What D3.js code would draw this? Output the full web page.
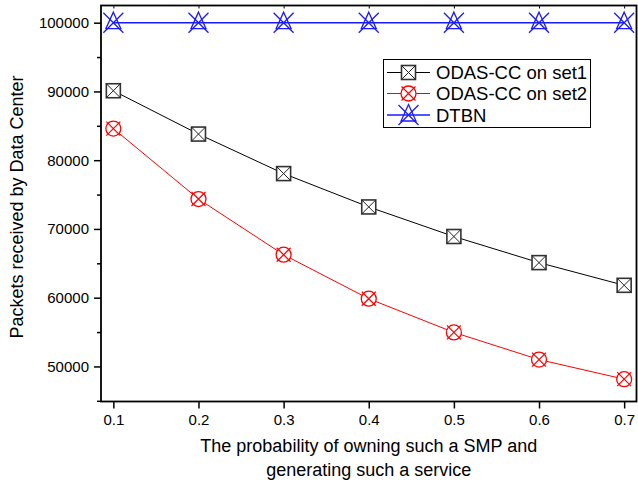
<!DOCTYPE html>
<html>
<head>
<meta charset="utf-8">
<script src="https://cdn.jsdelivr.net/npm/d3@7"></script>
<style>
  html, body { margin: 0; padding: 0; background: #fff; }
  svg { display: block; font-family: "Liberation Sans", Arial, sans-serif; }
</style>
</head>
<body>
<svg id="chart" width="638" height="485"></svg>
<script>
// Probability values on the x axis
const probabilities = [0.1, 0.2, 0.3, 0.4, 0.5, 0.6, 0.7];
// Packets received by the data center for each scheme
const odasSet1 = [90100, 83800, 78050, 73200, 68900, 65100, 61800];
const odasSet2 = [84600, 74350, 66250, 59850, 54950, 51000, 48150];
const dtbn = [100000, 100000, 100000, 100000, 100000, 100000, 100000];
const seriesNames = ["ODAS-CC on set1", "ODAS-CC on set2", "DTBN"];
const yTickValues = [50000, 60000, 70000, 80000, 90000, 100000];
const yMinorTickValues = [45000, 55000, 65000, 75000, 85000, 95000];

const svg = d3.select("#chart");
const plot = { left: 101, right: 636.5, top: 5.5, bottom: 401.5 };

const x = d3.scaleLinear().domain([0.0855, 0.7145]).range([plot.left, plot.right]);
const y = d3.scaleLinear().domain([44900, 102500]).range([plot.bottom, plot.top]);

const series = [
  { name: seriesNames[0], values: odasSet1, color: "#000000", marker: "square", width: 1 },
  { name: seriesNames[1], values: odasSet2, color: "#ff0000", marker: "circle", width: 1 },
  { name: seriesNames[2], values: dtbn, color: "#1a1aff", marker: "triangle", width: 1.5 }
];

// Marker drawing helpers
function drawMarker(g, type, color) {
  if (type === "square") {
    g.append("rect").attr("x", -7).attr("y", -7).attr("width", 14).attr("height", 14)
      .attr("fill", "#fff").attr("stroke", "#333").attr("stroke-width", 1.6);
    g.append("path").attr("d", "M-7,-7L7,7M-7,7L7,-7")
      .attr("stroke", "#222").attr("stroke-width", 1).attr("fill", "none");
  } else if (type === "circle") {
    g.append("circle").attr("r", 7.5).attr("fill", "#fff")
      .attr("stroke", color).attr("stroke-width", 1.3);
    g.append("path").attr("d", "M-7,-7L7,7M-7,7L7,-7")
      .attr("stroke", color).attr("stroke-width", 1.2).attr("fill", "none");
  } else {
    g.append("path").attr("d", "M0,-10.5L7.5,6L-7.5,6Z")
      .attr("fill", "none").attr("stroke", color).attr("stroke-width", 1.3);
    g.append("path").attr("d", "M-10,-10L10,10M-10,10L10,-10")
      .attr("stroke", color).attr("stroke-width", 1.3).attr("fill", "none");
  }
}

// Series lines and markers
const line = d3.line().x((d, i) => x(probabilities[i])).y(d => y(d));
series.forEach(s => {
  svg.append("path").datum(s.values).attr("d", line)
    .attr("fill", "none").attr("stroke", s.color).attr("stroke-width", s.width);
});
series.forEach(s => {
  svg.append("g").selectAll("g").data(s.values).join("g")
    .attr("transform", (d, i) => `translate(${x(probabilities[i])},${y(d)})`)
    .each(function () { drawMarker(d3.select(this), s.marker, s.color); });
});

// Axes
const xAxis = d3.axisBottom(x).tickValues(probabilities).tickFormat(d3.format(".1f"))
  .tickSize(7).tickPadding(6);
const gx = svg.append("g").attr("transform", `translate(0,${plot.bottom})`).call(xAxis);
gx.select(".domain").remove();
gx.selectAll("line").attr("stroke", "#000").attr("stroke-width", 1.5);
gx.selectAll("text").attr("font-size", 15).attr("fill", "#000")
  .attr("font-family", "Liberation Sans, Arial, sans-serif");

const yAxis = d3.axisLeft(y).tickValues(yTickValues).tickFormat(d3.format("d"))
  .tickSize(7).tickPadding(5);
const gy = svg.append("g").attr("transform", `translate(${plot.left},0)`).call(yAxis);
gy.select(".domain").remove();
gy.selectAll("line").attr("stroke", "#000").attr("stroke-width", 1.5);
gy.selectAll("text").attr("font-size", 15).attr("fill", "#000")
  .attr("font-family", "Liberation Sans, Arial, sans-serif");

const gyMinor = svg.append("g").attr("transform", `translate(${plot.left},0)`)
  .call(d3.axisLeft(y).tickValues(yMinorTickValues).tickSize(4).tickFormat(""));
gyMinor.select(".domain").remove();
gyMinor.selectAll("line").attr("stroke", "#000").attr("stroke-width", 1.5);

// Small inward ticks on the top edge
const gTop = svg.append("g").attr("transform", `translate(0,${plot.top})`)
  .call(d3.axisBottom(x).tickValues(probabilities).tickSize(3).tickFormat(""));
gTop.select(".domain").remove();
gTop.selectAll("line").attr("stroke", "#000").attr("stroke-width", 1);

// Plot frame
svg.append("rect")
  .attr("x", plot.left).attr("y", plot.top)
  .attr("width", plot.right - plot.left).attr("height", plot.bottom - plot.top)
  .attr("fill", "none").attr("stroke", "#000").attr("stroke-width", 1.8);

// Axis titles
svg.append("text")
  .attr("transform", "translate(23,207) rotate(-90)")
  .attr("text-anchor", "middle").attr("font-size", 18).attr("fill", "#000")
  .text("Packets received by Data Center");

const xTitle = svg.append("text").attr("text-anchor", "middle")
  .attr("font-size", 18).attr("fill", "#000");
xTitle.append("tspan").attr("x", (plot.left + plot.right) / 2).attr("y", 452)
  .text("The probability of owning such a SMP and");
xTitle.append("tspan").attr("x", (plot.left + plot.right) / 2).attr("y", 476)
  .text("generating such a service");

// Legend
const legend = svg.append("g");
legend.append("rect").attr("x", 383.5).attr("y", 59.5).attr("width", 207).attr("height", 68)
  .attr("fill", "#fff").attr("stroke", "#000").attr("stroke-width", 1);
const rowY = [72.5, 93.5, 115];
series.forEach((s, i) => {
  const row = legend.append("g").attr("transform", `translate(0,${rowY[i]})`);
  row.append("line").attr("x1", 387).attr("x2", 430).attr("y1", 0).attr("y2", 0)
    .attr("stroke", s.color).attr("stroke-width", s.width);
  const m = row.append("g").attr("transform", "translate(408.5,0)");
  drawMarker(m, s.marker, s.color);
  row.append("text").attr("x", 436).attr("y", 6.5).attr("font-size", 18.5)
    .attr("fill", "#000").text(s.name);
});
</script>
</body>
</html>
